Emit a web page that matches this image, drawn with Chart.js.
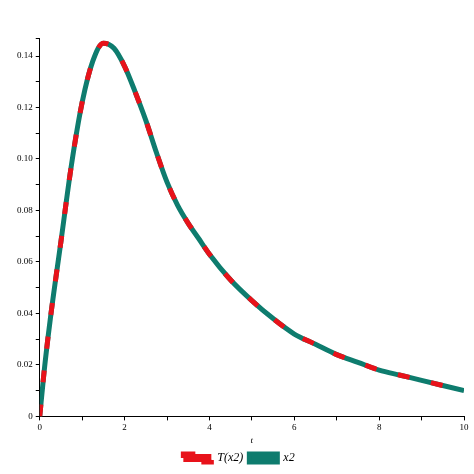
<!DOCTYPE html>
<html><head><script src="https://cdn.jsdelivr.net/npm/chart.js"></script>
<style>body{margin:0;background:#fff}#w{width:474px;height:474px}</style></head>
<body><div id="w"><canvas id="c"></canvas></div>
<script>
const tVals=[0,0.1,0.25,0.5,0.75,1,1.25,1.5,1.75,2,2.25,2.5,2.75,3,3.25,3.5,3.75,4,4.5,5,5.5,6,6.5,7,7.5,8,8.5,9,9.5,10];
const yVals=[0,0.017,0.038,0.068,0.098,0.122,0.138,0.145,0.143,0.136,0.126,0.115,0.1025,0.091,0.082,0.075,0.069,0.063,0.053,0.045,0.038,0.032,0.028,0.024,0.021,0.018,0.016,0.014,0.012,0.010];
const seriesNames=['T(x2)','x2'];
const pts=tVals.map((t,i)=>({x:t,y:yVals[i]}));
const tickFont={family:'Liberation Serif',size:9};
new Chart(document.getElementById('c'),{type:'line',
data:{datasets:[
{label:seriesNames[0],data:pts,borderColor:'#e8121a',backgroundColor:'#e8121a',borderWidth:5,borderDash:[12,22],pointRadius:0,cubicInterpolationMode:'monotone'},
{label:seriesNames[1],data:pts,borderColor:'#0e7c6e',backgroundColor:'#0e7c6e',borderWidth:5,pointRadius:0,cubicInterpolationMode:'monotone'}]},
options:{responsive:true,maintainAspectRatio:false,animation:false,
layout:{padding:{top:38,right:10,left:14,bottom:0}},
plugins:{legend:{position:'bottom',labels:{boxWidth:28,boxHeight:8,padding:6,font:{family:'Liberation Serif',size:12,style:'italic'},color:'#000'}},tooltip:{enabled:false}},
scales:{
x:{type:'linear',min:0,max:10,border:{color:'#000'},grid:{drawOnChartArea:false,tickLength:4,color:'#000'},
ticks:{stepSize:1,autoSkip:false,maxRotation:0,padding:2,font:tickFont,color:'#000',callback:v=>v%2===0?v:''},
title:{display:true,text:'t',font:{family:'Liberation Serif',size:9,style:'italic'},color:'#000',padding:0}},
y:{min:0,max:0.147,border:{color:'#000'},grid:{drawOnChartArea:false,tickLength:4,color:'#000'},
ticks:{stepSize:0.01,autoSkip:false,font:tickFont,color:'#000',callback:v=>{const k=Math.round(v*100);return (k%2===0&&k<=14)?(k===0?'0':(k/100).toFixed(2)):''}}}}}});
</script></body></html>
